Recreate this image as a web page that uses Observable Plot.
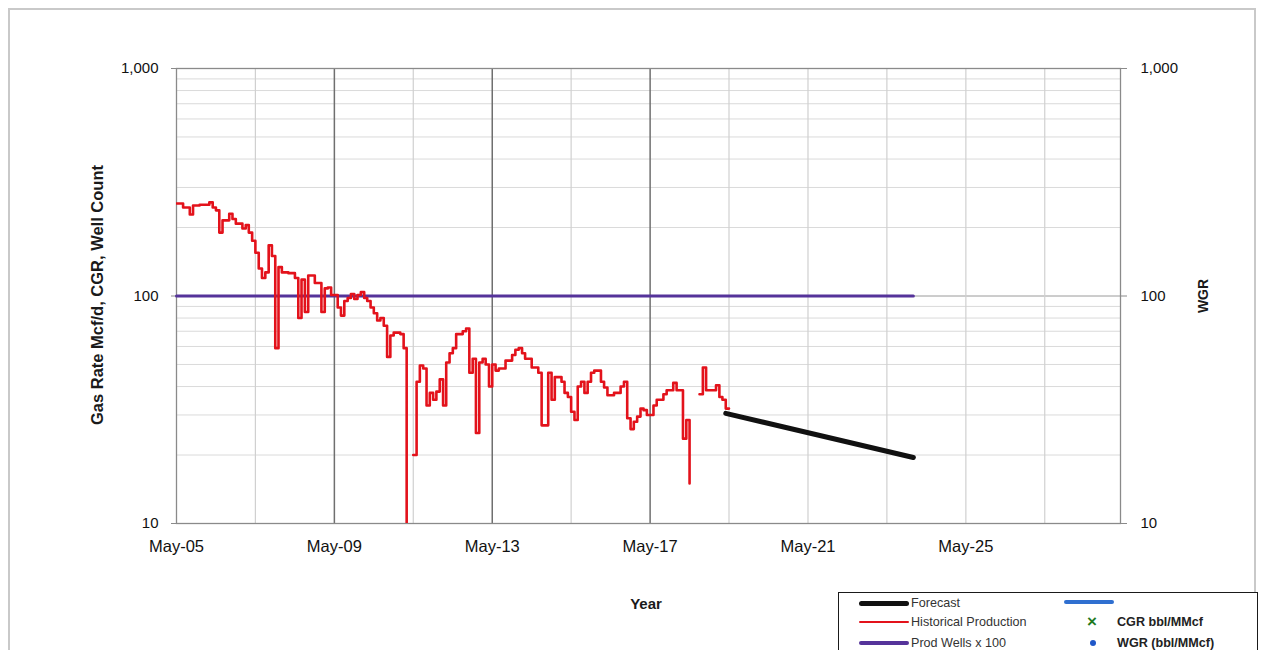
<!DOCTYPE html>
<html>
<head>
<meta charset="utf-8">
<script src="https://cdn.jsdelivr.net/npm/d3@7"></script>
<script src="https://cdn.jsdelivr.net/npm/@observablehq/plot@0.6"></script>
<style>
  body { margin: 0; background: #fff; }
  #wrap { position: relative; width: 1261px; height: 650px; overflow: hidden; font-family: "Liberation Sans", Arial, sans-serif; color: #1a1a1a; }
  #frame { position: absolute; left: 8px; top: 8px; width: 1248px; height: 720px; border: 2px solid #c9c9c9; box-sizing: border-box; }
  #chart { position: absolute; left: 0; top: 0; }
  .title { position: absolute; font-weight: bold; white-space: nowrap; }
  .vt { transform: translate(-50%, -50%) rotate(-90deg); }
  #legend { position: absolute; left: 838px; top: 592px; width: 420px; height: 80px; border: 1.5px solid #1a1a1a; background: #fff; box-sizing: border-box; font-size: 12.6px; color: #333; }
  .sw { position: absolute; height: 0; }
  .lt { position: absolute; transform: translateY(-50%); white-space: nowrap; }
</style>
</head>
<body>
<div id="wrap">
  <div id="frame"></div>
  <div id="chart"></div>
  <div class="title vt" style="left:97px;top:295px;font-size:16.5px;">Gas Rate Mcf/d, CGR, Well Count</div>
  <div class="title vt" style="left:1203px;top:296px;font-size:14px;">WGR</div>
  <div class="title" style="left:646px;top:603px;transform:translate(-50%,-50%);font-size:15px;">Year</div>
  <div id="legend"></div>
</div>
<script>
// ---- data ----
const histDates = ["2005-05","2005-07","2005-09","2005-10","2005-12","2006-03","2006-04","2006-05","2006-06","2006-07",
  "2006-09","2006-10","2006-11","2007-01","2007-02","2007-03","2007-04","2007-05","2007-06","2007-07",
  "2007-08","2007-09","2007-10","2007-11","2007-12","2008-01","2008-03","2008-05","2008-06","2008-07",
  "2008-08","2008-09","2008-11","2009-01","2009-02","2009-03","2009-04","2009-06","2009-07","2009-08",
  "2009-09","2009-10","2009-11","2009-12","2010-01","2010-02","2010-03","2010-04","2010-05","2010-06",
  "2010-07","2010-08","2010-09","2010-10","2010-11","2011-01","2011-02","2011-03","2011-04","2011-05",
  "2011-06","2011-07","2011-08","2011-09","2011-10","2011-11","2011-12","2012-01","2012-02","2012-03",
  "2012-04","2012-05","2012-06","2012-08","2012-09","2012-10","2012-11","2012-12","2013-01","2013-02",
  "2013-03","2013-04","2013-05","2013-06","2013-07","2013-09","2013-11","2013-12","2014-01","2014-02",
  "2014-03","2014-05","2014-07","2014-08","2014-10","2014-11","2014-12","2015-02","2015-03","2015-04",
  "2015-05","2015-06","2015-07","2015-08","2015-09","2015-10","2015-11","2015-12","2016-02","2016-03",
  "2016-04","2016-06","2016-08","2016-09","2016-10","2016-11","2016-12","2017-01","2017-02","2017-03",
  "2017-04","2017-06","2017-07","2017-09","2017-10","2017-12","2018-01","2018-03","2018-04","2018-05",
  "2018-06","2018-08","2018-09","2018-10","2019-01","2019-02","2019-03","2019-04","2019-05"];
const histRate = [255,245,228,250,252,258,245,238,190,215,
  230,218,208,198,205,190,175,155,132,120,
  127,167,150,59,134,127,126,120,80,118,
  85,123,114,85,108,109,101,89,82,95,
  98,102,97,101,104,98,95,89,84,78,
  80,74,54,67,69,68,59,5,null,20,
  42,49.5,48,33,37.5,35,38,43,33,51,
  56,59,68,70,72,46,53,25,51,53,
  50,40,50,47,48,52,55,58,59,56,
  53,48.5,46,27,46,35,44,42,37.5,36,
  31,28.5,40,42,37.5,42,46,47,42,39.6,
  36.6,37.5,40,42,29,26,28,29.5,32,31.5,
  30,33,35,37,38.5,41.5,38.5,23.6,28.5,15,
  null,37,48.5,38.5,40.5,36,35,32,32];
const forecastDates = ["2019-04","2024-01"];
const forecastRate = [30.5, 19.5];
const wellDates = ["2005-05","2024-01"];
const wellCount = [100, 100];
const yTicks = [10, 100, 1000];
const yMinor = [20,30,40,50,60,70,80,90,200,300,400,500,600,700,800,900];
const xTickDates = ["2005-05","2009-05","2013-05","2017-05","2021-05","2025-05"];
const xMinorDates = ["2007-05","2011-05","2015-05","2019-05","2021-05","2023-05","2025-05","2027-05"];
const xMajorDates = ["2009-05","2013-05","2017-05"];
const xDomain = ["2005-05","2029-04"];

// ---- build ----
const parse = d3.utcParse("%Y-%m");
const hist = histDates.map((d, i) => ({date: parse(d), rate: histRate[i]}));
const fc = forecastDates.map((d, i) => ({date: parse(d), rate: forecastRate[i]}));
const wells = wellDates.map((d, i) => ({date: parse(d), v: wellCount[i]}));

const chart = Plot.plot({
  width: 1261,
  height: 650,
  marginLeft: 176,
  marginRight: 141,
  marginTop: 68,
  marginBottom: 127,
  style: {background: "transparent", fontFamily: "Liberation Sans, Arial, sans-serif", fontSize: "15px", color: "#111"},
  x: {type: "utc", domain: xDomain.map(parse)},
  y: {type: "log", domain: [10, 1000]},
  marks: [
    Plot.ruleY(yMinor, {stroke: "#dadada", strokeWidth: 1}),
    Plot.ruleY([100, 1000], {stroke: "#9a9a9a", strokeWidth: 1}),
    Plot.ruleX(xMinorDates.map(parse), {stroke: "#d0d0d0", strokeWidth: 1.2}),
    Plot.ruleX(xMajorDates.map(parse), {stroke: "#6f6f6f", strokeWidth: 1.5}),
    Plot.frame({stroke: "#8a8a8a", strokeWidth: 1.3}),
    Plot.axisY({anchor: "left", ticks: yTicks, tickFormat: d3.format(","), tickSize: 5, tickPadding: 13, label: null, stroke: "#8a8a8a"}),
    Plot.axisY({anchor: "right", ticks: yTicks, tickFormat: d3.format(","), tickSize: 6, tickPadding: 14, label: null, stroke: "#8a8a8a"}),
    Plot.axisX({ticks: xTickDates.map(parse), tickFormat: d3.utcFormat("%b-%y"), tickSize: 0, tickPadding: 17, fontSize: 16.5, label: null}),
    Plot.line(wells, {x: "date", y: "v", stroke: "#55339a", strokeWidth: 3}),
    Plot.line(hist, {x: "date", y: "rate", curve: "step-after", stroke: "#e3121b", strokeWidth: 2.6, clip: true}),
    Plot.line(fc, {x: "date", y: "rate", stroke: "#111", strokeWidth: 5, strokeLinecap: "round"})
  ]
});
document.getElementById("chart").appendChild(chart);

// ---- legend ----
const legendItems = [
  {kind: "line", color: "#111", width: 5, x: 20, y: 10, label: "Forecast", bold: false},
  {kind: "line", color: "#e3121b", width: 2, x: 20, y: 29, label: "Historical Production", bold: false},
  {kind: "line", color: "#55339a", width: 4, x: 20, y: 50, label: "Prod Wells x 100", bold: false},
  {kind: "line", color: "#2f6fd0", width: 4, x: 225, y: 9, label: "", bold: false},
  {kind: "x", color: "#1f7a1f", x: 254, y: 29, label: "CGR bbl/MMcf", bold: true},
  {kind: "dot", color: "#1f57c8", x: 254, y: 50, label: "WGR (bbl/MMcf)", bold: true}
];
const lg = document.getElementById("legend");
for (const it of legendItems) {
  if (it.kind === "line") {
    const s = document.createElement("div");
    s.className = "sw";
    s.style.cssText = `left:${it.x}px;top:${it.y - it.width / 2}px;width:50px;height:${it.width}px;background:${it.color};border-radius:${it.width/2}px;`;
    lg.appendChild(s);
    if (it.label) {
      const t = document.createElement("div");
      t.className = "lt";
      t.style.cssText = `left:${it.x + 52}px;top:${it.y}px;`;
      t.textContent = it.label;
      lg.appendChild(t);
    }
  } else {
    const m = document.createElement("div");
    m.className = "lt";
    if (it.kind === "x") {
      m.style.cssText = `left:${it.x - 6}px;top:${it.y}px;color:${it.color};font-weight:bold;font-size:17px;`;
      m.textContent = "×";
    } else {
      m.style.cssText = `left:${it.x - 3}px;top:${it.y}px;width:6px;height:6px;border-radius:3px;background:${it.color};`;
    }
    lg.appendChild(m);
    const t = document.createElement("div");
    t.className = "lt";
    t.style.cssText = `left:${it.x + 24}px;top:${it.y}px;font-weight:${it.bold ? "bold" : "normal"};color:#222;`;
    t.textContent = it.label;
    lg.appendChild(t);
  }
}
</script>
</body>
</html>
